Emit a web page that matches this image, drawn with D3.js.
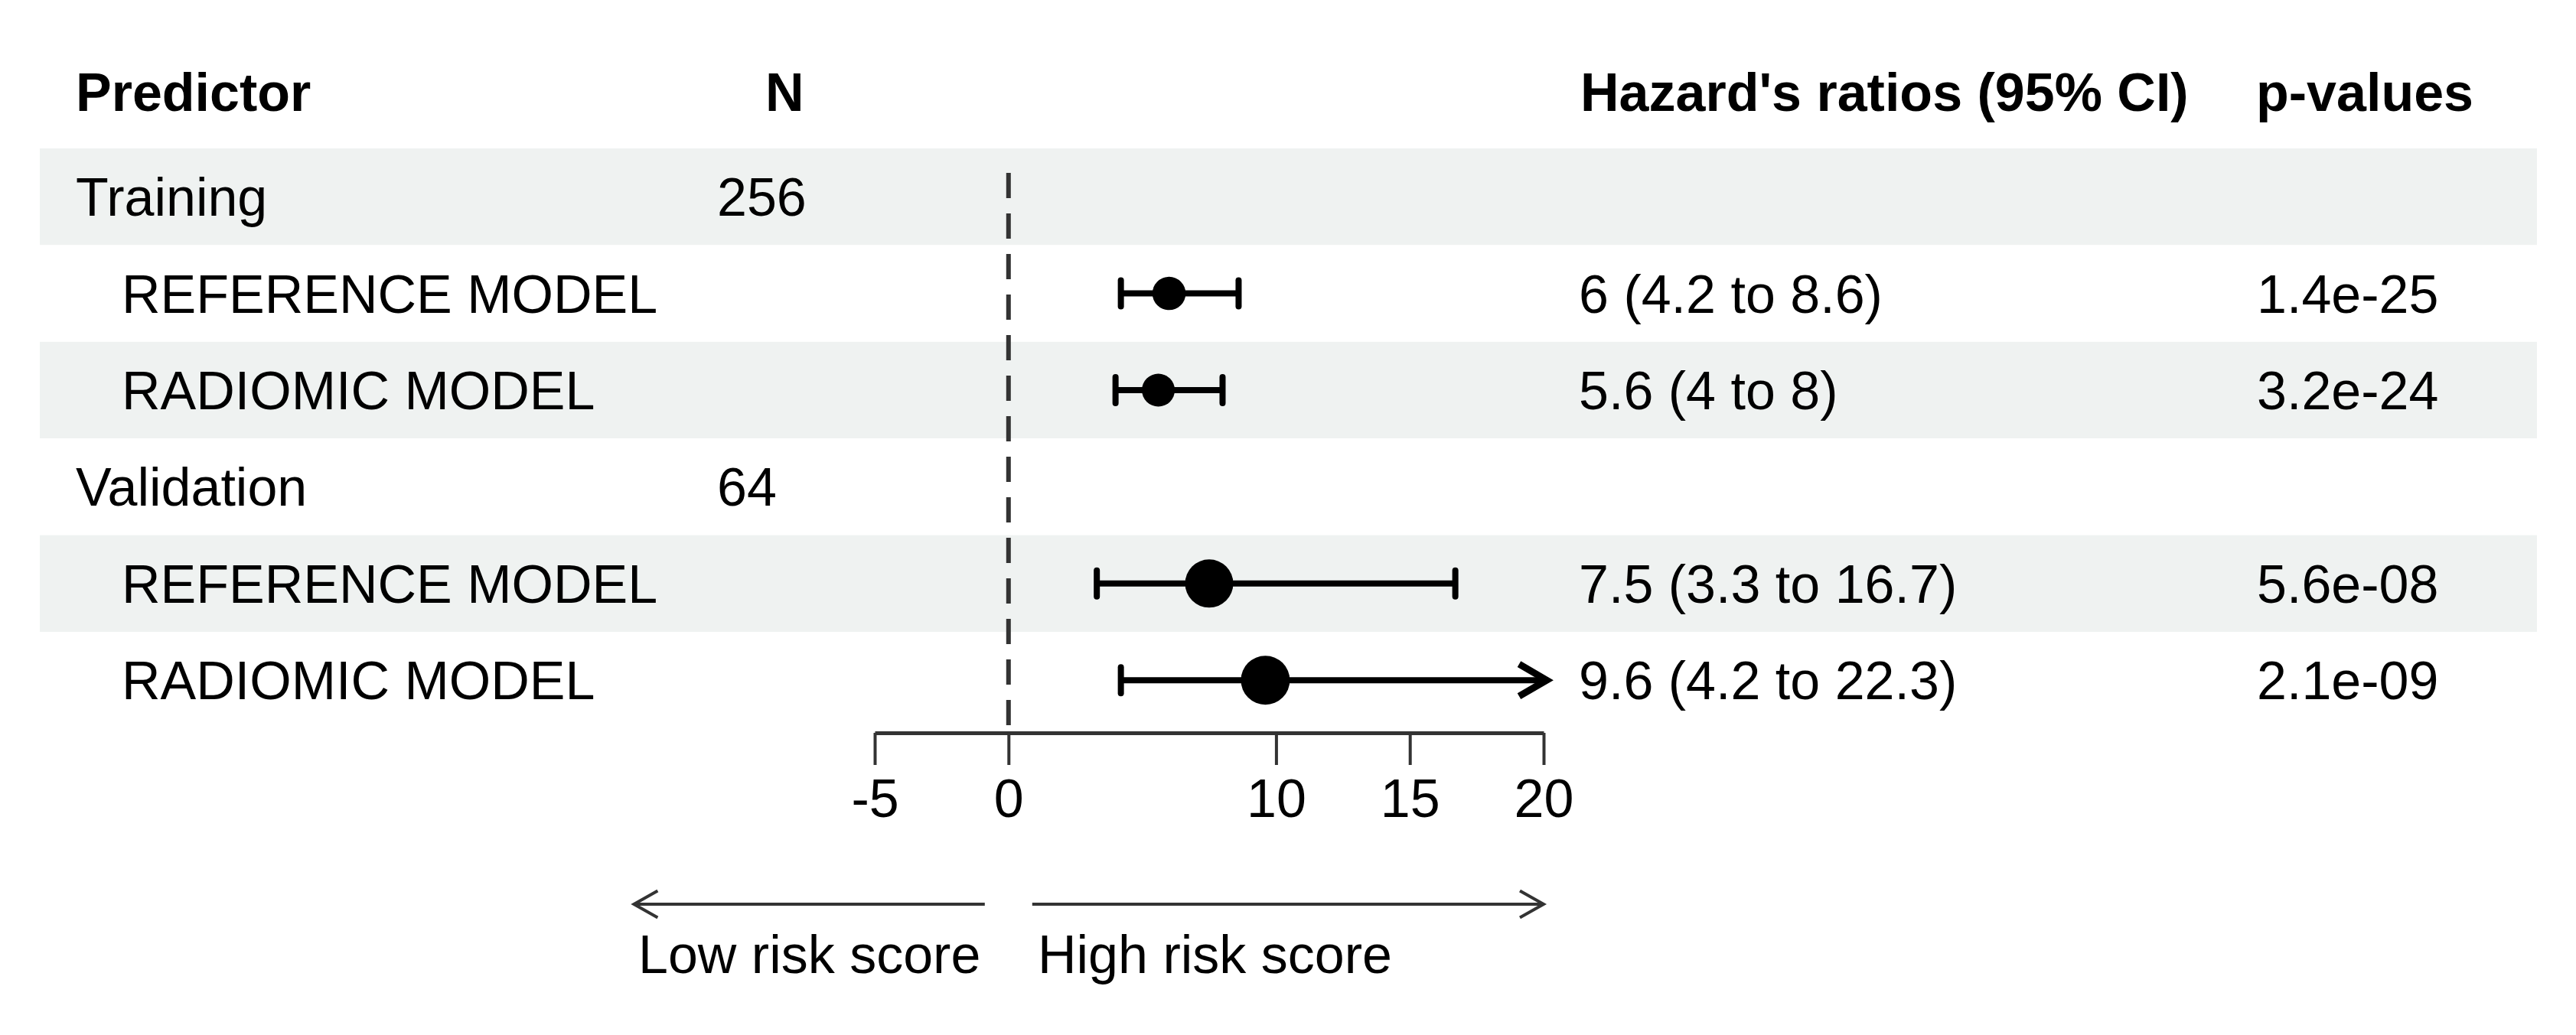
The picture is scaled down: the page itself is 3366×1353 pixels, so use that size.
<!DOCTYPE html>
<html>
<head>
<meta charset="utf-8">
<script src="https://cdn.jsdelivr.net/npm/d3@7"></script>
<style>
  body { margin: 0; background: #fff; }
  text { font-family: "Liberation Sans", Arial, Helvetica, sans-serif; fill: #000; }
</style>
</head>
<body>
<div id="plot"></div>
<script>
// table rows
const labels = ["Training", "REFERENCE MODEL", "RADIOMIC MODEL", "Validation", "REFERENCE MODEL", "RADIOMIC MODEL"];
const indent = [false, true, true, false, true, true];
const nText = ["256", "", "", "64", "", ""];
const hr = [null, 6, 5.6, null, 7.5, 9.6];
const lower = [null, 4.2, 4, null, 3.3, 4.2];
const upper = [null, 8.6, 8, null, 16.7, 22.3];
const hrText = ["", "6 (4.2 to 8.6)", "5.6 (4 to 8)", "", "7.5 (3.3 to 16.7)", "9.6 (4.2 to 22.3)"];
const pText = ["", "1.4e-25", "3.2e-24", "", "5.6e-08", "2.1e-09"];
const headers = ["Predictor", "N", "Hazard's ratios (95% CI)", "p-values"];
const tickVals = [-5, 0, 10, 15, 20];
const arrowLabels = ["Low risk score", "High risk score"];

const W = 3366, H = 1353;
const fontSize = 70;
const rowTop = 194, rowH = 126.4;
const ink = "#333";

const svg = d3.select("#plot")
  .append("svg")
    .attr("width", W)
    .attr("height", H);

svg.append("rect").attr("width", W).attr("height", H).attr("fill", "#fff");

// x scale for the forest panel
const x = d3.scaleLinear()
    .domain([-5, 20])
    .range([1143, 2017]);

const y = i => rowTop + rowH * (i + 0.5);

// point size from the standard error of the log HR
const se = hr.map((d, i) => d == null ? null : (Math.log(upper[i]) - Math.log(lower[i])) / 3.92);
const r = d3.scaleLinear()
    .domain(d3.extent(se.filter(d => d != null)))
    .range([21.5, 32]);

// background stripes
svg.append("g")
  .selectAll("rect")
  .data(labels)
  .join("rect")
    .attr("x", 52)
    .attr("y", (d, i) => rowTop + rowH * i)
    .attr("width", 3315 - 52)
    .attr("height", rowH)
    .attr("fill", (d, i) => i % 2 === 0 ? "#eff2f1" : "#fff");

// headers
const headX = [99, 1000, 2065, 2948];
svg.append("g")
  .selectAll("text")
  .data(headers)
  .join("text")
    .attr("x", (d, i) => headX[i])
    .attr("y", 145)
    .attr("font-size", fontSize)
    .attr("font-weight", "bold")
    .text(d => d);

// table text
const cells = svg.append("g").attr("font-size", fontSize);
cells.selectAll(".lab")
  .data(labels)
  .join("text")
    .attr("class", "lab")
    .attr("x", (d, i) => indent[i] ? 159 : 99)
    .attr("y", (d, i) => y(i) + 25)
    .text(d => d);
cells.selectAll(".n")
  .data(nText)
  .join("text")
    .attr("class", "n")
    .attr("x", 937)
    .attr("y", (d, i) => y(i) + 25)
    .text(d => d);
cells.selectAll(".hr")
  .data(hrText)
  .join("text")
    .attr("class", "hr")
    .attr("x", 2063)
    .attr("y", (d, i) => y(i) + 25)
    .text(d => d);
cells.selectAll(".p")
  .data(pText)
  .join("text")
    .attr("class", "p")
    .attr("x", 2949)
    .attr("y", (d, i) => y(i) + 25)
    .text(d => d);

// reference line at 0
const axisY = 958;
svg.append("line")
    .attr("x1", x(0)).attr("x2", x(0))
    .attr("y1", 226).attr("y2", axisY)
    .attr("stroke", ink)
    .attr("stroke-width", 6)
    .attr("stroke-dasharray", "33,20");

// axis
const axis = svg.append("g")
    .attr("transform", `translate(0,${axisY})`)
    .call(d3.axisBottom(x)
      .tickValues(tickVals)
      .tickSize(42)
      .tickSizeOuter(0)
      .tickPadding(18)
      .tickFormat(d3.format("d")));
axis.select(".domain").attr("stroke", ink).attr("stroke-width", 5);
axis.selectAll(".tick line").attr("stroke", ink).attr("stroke-width", 4);
axis.selectAll(".tick text")
    .attr("font-size", fontSize)
    .attr("font-family", "Liberation Sans, Arial, sans-serif")
    .attr("fill", "#000")
    .text(d => d < 0 ? "-" + Math.abs(d) : d);

// error bars
const rows = hr.map((d, i) => ({ i, est: d, lo: lower[i], hi: upper[i], se: se[i] })).filter(d => d.est != null);
const xMax = x.domain()[1];
const bars = svg.append("g");
bars.selectAll(".ci")
  .data(rows)
  .join("line")
    .attr("x1", d => x(d.lo))
    .attr("x2", d => x(Math.min(d.hi, xMax)))
    .attr("y1", d => y(d.i)).attr("y2", d => y(d.i))
    .attr("stroke", "#000")
    .attr("stroke-width", 8);
bars.selectAll(".capL")
  .data(rows)
  .join("line")
    .attr("x1", d => x(d.lo)).attr("x2", d => x(d.lo))
    .attr("y1", d => y(d.i) - 17).attr("y2", d => y(d.i) + 17)
    .attr("stroke", "#000")
    .attr("stroke-width", 8)
    .attr("stroke-linecap", "round");
bars.selectAll(".capR")
  .data(rows.filter(d => d.hi <= xMax))
  .join("line")
    .attr("x1", d => x(d.hi)).attr("x2", d => x(d.hi))
    .attr("y1", d => y(d.i) - 17).attr("y2", d => y(d.i) + 17)
    .attr("stroke", "#000")
    .attr("stroke-width", 8)
    .attr("stroke-linecap", "round");
bars.selectAll(".arrowR")
  .data(rows.filter(d => d.hi > xMax))
  .join("path")
    .attr("d", d => {
      const tx = x(xMax) + 4, ty = y(d.i);
      return `M${tx - 36},${ty - 21}L${tx},${ty}L${tx - 36},${ty + 21}`;
    })
    .attr("fill", "none")
    .attr("stroke", "#000")
    .attr("stroke-width", 9)
    .attr("stroke-linejoin", "miter");
bars.selectAll("circle")
  .data(rows)
  .join("circle")
    .attr("cx", d => x(d.est))
    .attr("cy", d => y(d.i))
    .attr("r", d => r(d.se))
    .attr("fill", "#000");

// direction arrows below the axis
const arrY = 1182;
const gap = 31;
const arrowDefs = [
  { from: x(0) - gap, to: x(-14), dir: -1 },
  { from: x(0) + gap, to: x(20), dir: 1 }
];
const arr = svg.append("g").attr("stroke", ink).attr("stroke-width", 4).attr("fill", "none");
arr.selectAll("line")
  .data(arrowDefs)
  .join("line")
    .attr("x1", d => d.from).attr("x2", d => d.to)
    .attr("y1", arrY).attr("y2", arrY);
arr.selectAll("path")
  .data(arrowDefs)
  .join("path")
    .attr("d", d => `M${d.to - d.dir * 31},${arrY - 17.5}L${d.to},${arrY}L${d.to - d.dir * 31},${arrY + 17.5}`);

svg.append("g")
  .selectAll("text")
  .data(arrowLabels)
  .join("text")
    .attr("x", (d, i) => i === 0 ? 834 : 1356)
    .attr("y", 1272)
    .attr("font-size", fontSize)
    .text(d => d);
</script>
</body>
</html>
